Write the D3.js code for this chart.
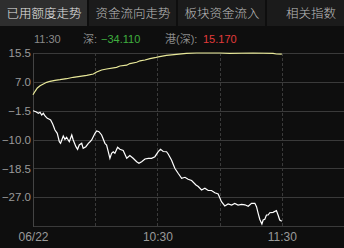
<!DOCTYPE html>
<html>
<head>
<meta charset="utf-8">
<script src="https://cdn.jsdelivr.net/npm/d3@7"></script>
<style>
  html, body { margin: 0; padding: 0; background: #0e0e0e; }
  svg { display: block; }
</style>
</head>
<body>
<svg id="chart" width="344" height="248"></svg>
<script>
// tabs across the top
var tabs = ["已用额度走势", "资金流向走势", "板块资金流入", "相关指数"];

// y ticks (亿)
var yTicks = [15.5, 7.0, -1.5, -10.0, -18.5, -27.0];
var yMin = -35.5, yMax = 15.5;

// x: minutes after 09:30, chart shows up to 150
var xGrid = [30, 60, 90, 120];
var xLabelMin = [0, 60, 120];
var xLabelText = ["06/22", "10:30", "11:30"];

// 深股通 (white) [minute, value]
var shen = [
  [0,-1.51],[1.4,-1.8],[2.6,-2.28],[3.4,-1.98],[4.2,-2.78],[5,-2.28],[5.8,-3.07],
  [6.9,-3.75],[7.9,-4.05],[8.5,-4.25],[9.5,-5.43],[10.6,-7.2],[11.7,-8.17],
  [12.7,-10.65],[13.3,-11.12],[14.6,-8.97],[15.4,-9.94],[16.2,-9.35],[17.5,-10.65],
  [18.7,-8.67],[19.4,-10.15],[20.7,-12.12],[21.5,-12.89],[22.3,-11.62],[23.5,-11.12],
  [24.2,-12.6],[25.5,-12.12],[26.7,-11.12],[27.5,-10.65],[28.3,-10.15],[29.9,-8.17],
  [30.7,-7.49],[31.8,-7.7],[33.1,-8.67],[34.7,-11.12],[35.5,-11.62],[36.3,-13.6],
  [37.1,-15.54],[37.9,-14.07],[38.7,-13.6],[39.5,-14.07],[40.8,-12.3],[41.9,-12.89],
  [43.5,-13.24],[45.2,-15.54],[46.7,-14.72],[48.3,-15.54],[50,-16.54],[51.1,-17.02],
  [52.4,-16.54],[54,-15.75],[55.6,-15.54],[57.2,-15.54],[58.8,-15.07],[60.4,-13.6],
  [61.5,-12.89],[62.8,-13.54],[64.4,-13.6],[65.2,-14.27],[66.8,-16.04],[68.4,-18.49],
  [70,-19.96],[71.7,-21.44],[73.3,-21.14],[74.8,-21.73],[76.5,-22.09],[78.6,-23.41],
  [79.7,-23.86],[81.3,-24.89],[82.9,-24.39],[84.5,-25.04],[86.1,-25.04],[87.7,-25.68],
  [89.3,-26.07],[90.9,-28.34],[92.5,-29.6],[94.1,-29.01],[95.8,-29.31],[97.3,-28.87],
  [98.9,-29.31],[100.6,-29.1],[102.2,-29.25],[103.8,-29.69],[105.4,-28.81],[107,-28.81],
  [107.8,-29.81],[108.6,-31.76],[109.4,-33.58],[110.4,-34.91],[111,-33.73],[111.8,-33.53],
  [112.6,-32.26],[113.4,-32.26],[114.2,-31.58],[115.8,-31.46],[117.4,-30.93],
  [118.2,-32.26],[119,-33.73],[120,-34.11]
];

// 港股通(深) (yellow)
var gang = [
  [0,3.21],[1,4.21],[2.1,5.18],[3.4,5.86],[5,6.36],[6.6,6.86],[8.2,7.16],[10.6,7.45],
  [13,7.63],[16.2,7.92],[19.4,8.34],[22.7,8.63],[25.9,8.93],[29.1,9.31],[30.7,9.9],
  [33.1,10.49],[35.5,10.78],[40.3,11.28],[41.9,11.67],[45.2,11.9],[46.7,12.38],
  [50,12.76],[51.6,13.2],[54,13.44],[56.4,13.85],[58.8,14.11],[60.4,14.38],[64.4,14.82],
  [69.2,15.12],[74,15.41],[78.9,15.5],[90.1,15.5],[94.9,15.41],[106.2,15.5],
  [115.8,15.41],[117.4,15.2],[120,15.17]
];

var svg = d3.select("#chart");
var width = 344, height = 248;

var x = d3.scaleLinear().domain([0, 150]).range([33, 344]);
var y = d3.scaleLinear().domain([yMin, yMax]).range([226, 53]);

// tab bar
var tabW = 88;
var tab = svg.selectAll("g.tab")
    .data(tabs)
    .join("g")
    .attr("class", "tab")
    .attr("transform", function(d, i) { return "translate(" + (i * (tabW + 1)) + ",0)"; });

tab.append("rect")
    .attr("width", tabW - 1)
    .attr("height", 26)
    .attr("fill", function(d, i) { return i == 0 ? "#2e2e2e" : "#1b1b1b"; });

tab.append("text")
    .attr("x", tabW / 2)
    .attr("y", 14)
    .attr("dy", "0.35em")
    .attr("text-anchor", "middle")
    .attr("font-family", "'Noto Sans CJK SC', sans-serif")
    .attr("font-size", 12.5)
    .attr("font-weight", 300)
    .attr("fill", function(d, i) { return i == 0 ? "#e6e6e6" : "#bdbdbd"; })
    .text(function(d) { return d; });

// info line
var info = svg.append("text")
    .attr("y", 39)
    .attr("dy", "0.35em")
    .attr("font-family", "'Liberation Sans', 'Noto Sans CJK SC', sans-serif")
    .attr("font-size", 11);
info.append("tspan").attr("x", 34).attr("fill", "#8a8a8a").text("11:30");
info.append("tspan").attr("x", 83).attr("fill", "#8a8a8a").text("深:");
info.append("tspan").attr("x", 101).attr("fill", "#3fae3f").text(d3.format(".3f")(shen[shen.length - 1][1]));
info.append("tspan").attr("x", 165).attr("fill", "#8a8a8a").text("港(深):");
info.append("tspan").attr("x", 203).attr("fill", "#e23b3b").text(d3.format(".3f")(gang[gang.length - 1][1]));

// horizontal grid
svg.append("g")
    .selectAll("line")
    .data(yTicks.concat([yMin]))
    .join("line")
    .attr("x1", 33).attr("x2", width)
    .attr("y1", function(d) { return Math.round(y(d)) + 0.5; })
    .attr("y2", function(d) { return Math.round(y(d)) + 0.5; })
    .attr("stroke", "#3a3a3a")
    .attr("stroke-width", 1);

// vertical dashed grid
svg.append("g")
    .selectAll("line")
    .data(xGrid)
    .join("line")
    .attr("x1", function(d) { return Math.round(x(d)) + 0.5; })
    .attr("x2", function(d) { return Math.round(x(d)) + 0.5; })
    .attr("y1", y(yMax)).attr("y2", y(yMin))
    .attr("stroke", "#3a3a3a")
    .attr("stroke-dasharray", "3,2");

// left border
svg.append("line")
    .attr("x1", 33.5).attr("x2", 33.5)
    .attr("y1", y(yMax)).attr("y2", y(yMin) + 1)
    .attr("stroke", "#444");

// y axis labels
var yAxis = svg.append("g")
    .attr("transform", "translate(33,0)")
    .call(d3.axisLeft(y).tickValues(yTicks).tickSize(0).tickPadding(2).tickFormat(d3.format(".1f")));
yAxis.select(".domain").remove();
yAxis.selectAll("text")
    .attr("fill", "#9a9a9a")
    .attr("font-size", 11.5)
    .attr("font-family", "'Liberation Sans', sans-serif");

// x axis labels
var xAxis = svg.append("g")
    .attr("transform", "translate(0,226)")
    .call(d3.axisBottom(x).tickValues(xLabelMin).tickSize(0).tickPadding(6)
        .tickFormat(function(d, i) { return xLabelText[i]; }));
xAxis.select(".domain").remove();
xAxis.selectAll("text")
    .attr("fill", "#9a9a9a")
    .attr("font-size", 12)
    .attr("font-family", "'Liberation Sans', sans-serif");

// lines
var line = d3.line()
    .x(function(d) { return x(d[0]); })
    .y(function(d) { return y(d[1]); });

svg.append("path")
    .datum(gang)
    .attr("d", line)
    .attr("fill", "none")
    .attr("stroke", "#e9e99a")
    .attr("stroke-width", 1.2);

svg.append("path")
    .datum(shen)
    .attr("d", line)
    .attr("fill", "none")
    .attr("stroke", "#ffffff")
    .attr("stroke-width", 1.2);
</script>
</body>
</html>
